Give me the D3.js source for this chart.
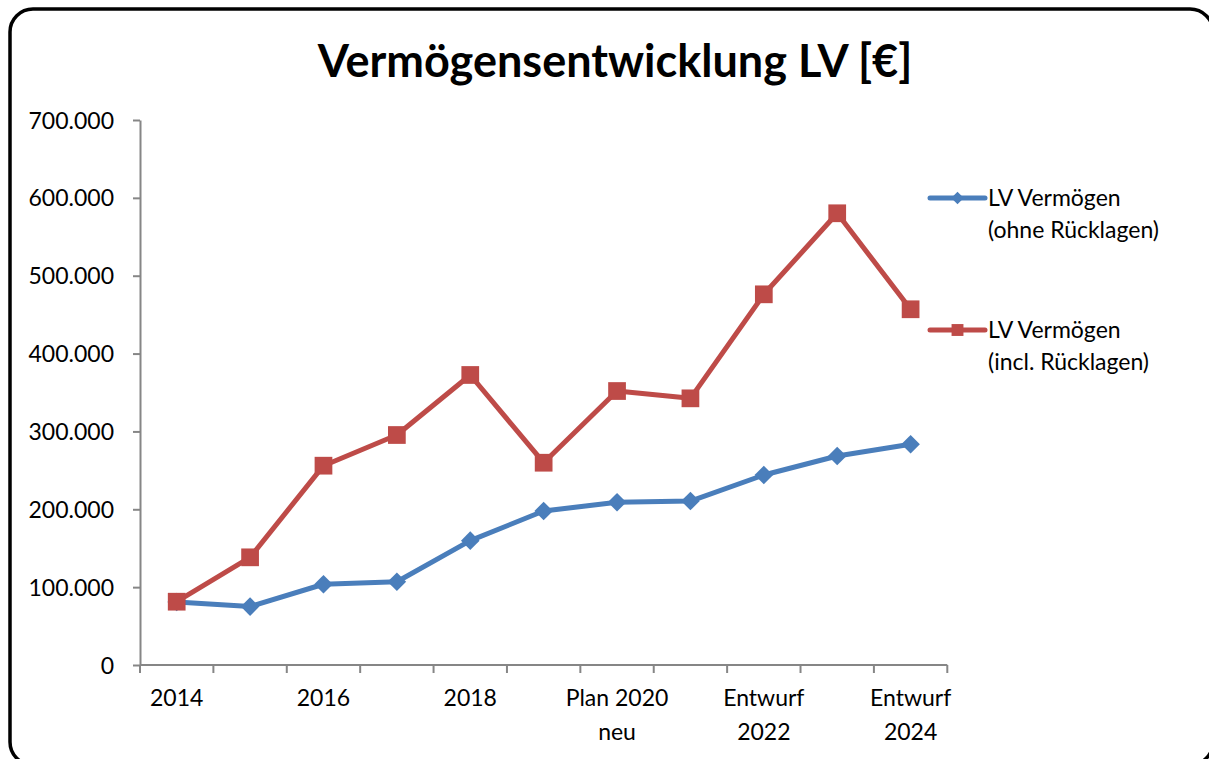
<!DOCTYPE html>
<html>
<head>
<meta charset="utf-8">
<script src="https://cdn.jsdelivr.net/npm/d3@7"></script>
<style>
  body { margin: 0; background: #fff; }
  svg { display: block; font-family: Lato, "Open Sans", sans-serif; }
</style>
</head>
<body>
<svg width="1209" height="759"></svg>
<script>
// Kategorien (nur jede zweite wird beschriftet)
var jahre = ["2014", "2015", "2016", "2017", "2018", "2019", "Plan 2020\nneu",
  "Plan 2021", "Entwurf\n2022", "Entwurf 2023", "Entwurf\n2024"];
var ohneRuecklagen = [81000, 75000, 103700, 107000, 159700, 197800, 209000, 210600, 244000, 268400, 283500];
var inclRuecklagen = [81300, 138300, 256000, 295400, 372500, 259800, 351900, 342500, 476100, 580200, 456900];
var yTicks = [0, 100000, 200000, 300000, 400000, 500000, 600000, 700000];
var serien = ["LV Vermögen\n(ohne Rücklagen)", "LV Vermögen\n(incl. Rücklagen)"];

var blau = "#4a7ebb", rot = "#be4b48", achse = "#868686";

var svg = d3.select("svg");

// Rahmen (rechts und unten abgeschnitten)
svg.append("rect")
  .attr("x", 10).attr("y", 9)
  .attr("width", 1203).attr("height", 756)
  .attr("rx", 23)
  .attr("fill", "#fff")
  .attr("stroke", "#000")
  .attr("stroke-width", 3.5);

// Titel
svg.append("text")
  .attr("x", 615).attr("y", 77)
  .attr("text-anchor", "middle")
  .attr("font-size", "45px")
  .attr("font-weight", "bold")
  .text("Vermögensentwicklung LV [€]");

var x = d3.scaleBand().domain(jahre).range([140, 947.3]);
var y = d3.scaleLinear().domain([0, 700000]).range([665, 120]);

var fmt = function (d) { return d3.format(",")(d).replace(/,/g, "."); };

// Y-Achse
var yAx = svg.append("g")
  .attr("transform", "translate(140,0)")
  .call(d3.axisLeft(y).tickValues(yTicks).tickFormat(fmt).tickSize(7).tickSizeOuter(0).tickPadding(19));
yAx.select(".domain").attr("stroke", achse).attr("stroke-width", 2);
yAx.selectAll(".tick line").attr("stroke", achse).attr("stroke-width", 2);
yAx.selectAll(".tick text").attr("font-size", "23px").attr("fill", "#000")
  .attr("font-family", "Lato, sans-serif").attr("dy", "0.35em");

// X-Achse: Striche an den Bandgrenzen
var xAx = svg.append("g").attr("transform", "translate(0,665)");
xAx.append("line")
  .attr("x1", 140).attr("x2", 947.3)
  .attr("stroke", achse).attr("stroke-width", 2);
var grenzen = jahre.map(function (d) { return x(d); }).concat([x.range()[1]]);
xAx.selectAll(".grenze")
  .data(grenzen)
  .enter().append("line")
  .attr("x1", function (d) { return d; }).attr("x2", function (d) { return d; })
  .attr("y1", 0).attr("y2", 8)
  .attr("stroke", achse).attr("stroke-width", 2);

var xLab = xAx.selectAll(".lab")
  .data(jahre.filter(function (d, i) { return i % 2 == 0; }))
  .enter().append("text")
  .attr("text-anchor", "middle")
  .attr("font-size", "23px")
  .attr("y", 41);
xLab.each(function (d) {
  var t = d3.select(this);
  d.split("\n").forEach(function (z, k) {
    t.append("tspan")
      .attr("x", x(d) + x.bandwidth() / 2)
      .attr("dy", k == 0 ? 0 : 34)
      .text(z);
  });
});

var cx = function (d, i) { return x(jahre[i]) + x.bandwidth() / 2; };

var linie = d3.line()
  .x(function (d, i) { return cx(d, i); })
  .y(function (d) { return y(d); });

// Linien
svg.append("path").datum(ohneRuecklagen)
  .attr("d", linie).attr("fill", "none")
  .attr("stroke", blau).attr("stroke-width", 5).attr("stroke-linejoin", "round");
svg.append("path").datum(inclRuecklagen)
  .attr("d", linie).attr("fill", "none")
  .attr("stroke", rot).attr("stroke-width", 5).attr("stroke-linejoin", "round");

var raute = d3.symbol().type(d3.symbolDiamond2).size(220);
var quadrat = d3.symbol().type(d3.symbolSquare2).size(400);

svg.append("g").selectAll("path")
  .data(ohneRuecklagen)
  .enter().append("path")
  .attr("d", raute)
  .attr("transform", function (d, i) { return "translate(" + cx(d, i) + "," + y(d) + ")"; })
  .attr("fill", blau);

svg.append("g").selectAll("path")
  .data(inclRuecklagen)
  .enter().append("path")
  .attr("d", quadrat)
  .attr("transform", function (d, i) { return "translate(" + cx(d, i) + "," + y(d) + ")"; })
  .attr("fill", rot);

// Legende
var legY = [198, 330];
var leg = svg.append("g").selectAll("g")
  .data(serien)
  .enter().append("g")
  .attr("transform", function (d, i) { return "translate(930," + legY[i] + ")"; });
leg.append("line")
  .attr("x1", 0).attr("x2", 55)
  .attr("stroke", function (d, i) { return i == 0 ? blau : rot; })
  .attr("stroke-width", 5).attr("stroke-linecap", "round");
leg.append("path")
  .attr("d", function (d, i) { return i == 0 ? d3.symbol().type(d3.symbolDiamond2).size(100)() : d3.symbol().type(d3.symbolSquare2).size(180)(); })
  .attr("transform", "translate(27.5,0)")
  .attr("fill", function (d, i) { return i == 0 ? blau : rot; });
leg.append("text")
  .attr("font-size", "23px")
  .each(function (d) {
    var t = d3.select(this);
    d.split("\n").forEach(function (z, k) {
      t.append("tspan").attr("x", 58).attr("y", 8 + k * 32).text(z);
    });
  });
</script>
</body>
</html>
